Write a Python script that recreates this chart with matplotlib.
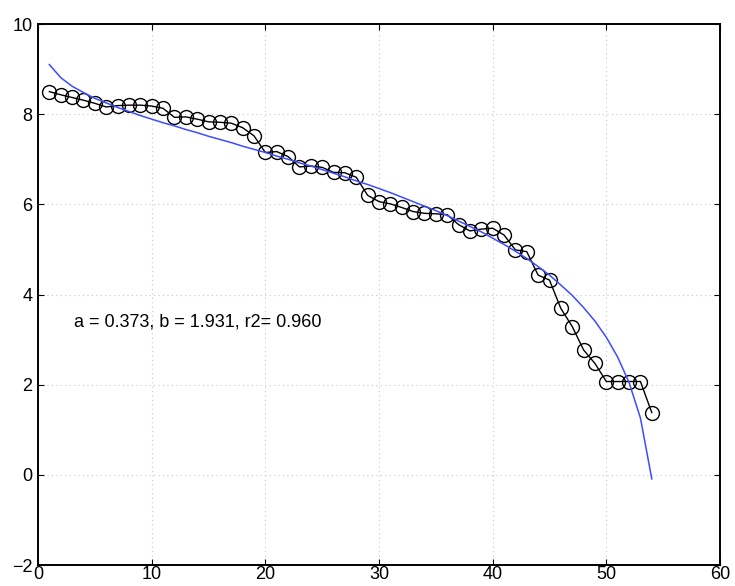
import matplotlib
matplotlib.use("Agg")
import matplotlib.pyplot as plt

plt.rcParams['font.family'] = ['Liberation Sans', 'DejaVu Sans']

rank = list(range(1, 55))
observed = [8.50, 8.43, 8.37, 8.31, 8.24, 8.16, 8.19, 8.20, 8.20, 8.18,
            8.13, 7.93, 7.94, 7.89, 7.83, 7.82, 7.80, 7.70, 7.52, 7.15,
            7.17, 7.06, 6.83, 6.85, 6.82, 6.71, 6.70, 6.60, 6.20, 6.06,
            6.01, 5.93, 5.84, 5.80, 5.79, 5.77, 5.55, 5.41, 5.45, 5.47,
            5.32, 4.99, 4.95, 4.43, 4.32, 3.69, 3.29, 2.77, 2.47, 2.07,
            2.07, 2.07, 2.07, 1.38]
fitted = [9.10, 8.81, 8.62, 8.48, 8.35, 8.25, 8.15, 8.06, 7.97, 7.89,
          7.81, 7.74, 7.66, 7.59, 7.51, 7.44, 7.37, 7.29, 7.22, 7.15,
          7.07, 7.00, 6.92, 6.85, 6.77, 6.69, 6.61, 6.52, 6.44, 6.35,
          6.26, 6.16, 6.06, 5.96, 5.86, 5.75, 5.63, 5.51, 5.39, 5.25,
          5.11, 4.96, 4.80, 4.62, 4.43, 4.21, 3.98, 3.71, 3.41, 3.05,
          2.61, 2.05, 1.26, -0.09]
annotation = "a = 0.373, b = 1.931, r2= 0.960"

fig = plt.figure(figsize=(7.35, 5.86), dpi=100)
ax = fig.add_axes([38/735, 1-565/586, (720-38)/735, (565-24)/586])

ax.plot(rank, observed, color='black', linewidth=1.0, marker='o',
        markersize=10, markerfacecolor='none', markeredgecolor='black',
        markeredgewidth=1.0, zorder=3)
ax.plot(rank, fitted, color='#3d4cff', linewidth=1.1, zorder=4)

ax.text(3.2, 3.4, annotation, fontsize=13, va='center', ha='left')

ax.set_xlim(0, 60)
ax.set_ylim(-2, 10)
ax.set_xticks(range(0, 61, 10))
ax.set_yticks(range(-2, 11, 2))
ax.grid(True, linestyle=(0, (1, 3)), color='#c8c8c8', linewidth=0.8)
ax.tick_params(direction='in', length=4, width=0.8, top=True, right=True,
               labelsize=13, pad=4)
ax.tick_params(axis='x', pad=1)
for s in ax.spines.values():
    s.set_linewidth(1.4)

fig.savefig("out.png", dpi=100)
